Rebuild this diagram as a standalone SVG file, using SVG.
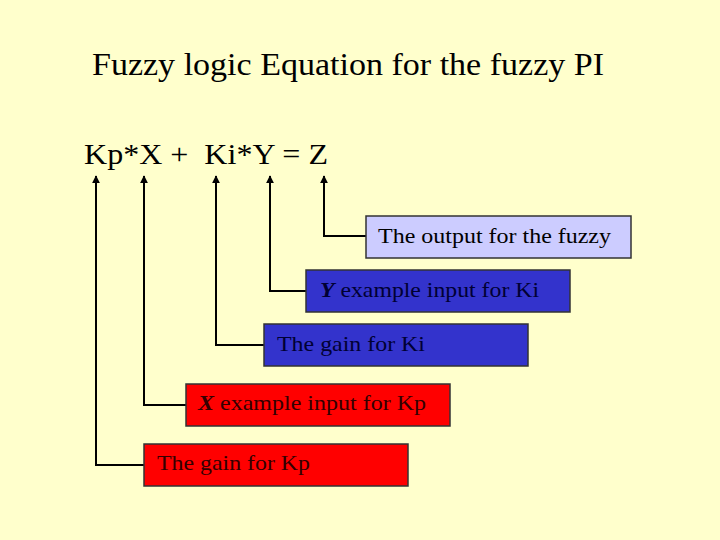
<svg xmlns="http://www.w3.org/2000/svg" width="720" height="540" viewBox="0 0 720 540" font-family="'Liberation Serif', 'Times New Roman', 'DejaVu Serif', serif">
<style>
.box{stroke:#333;stroke-width:1.5}
.lbl{font-size:22px}
.conn{fill:none;stroke:#000;stroke-width:2}
</style>
<defs>
<marker id="arr" viewBox="0 0 10 10" refX="9" refY="5" markerWidth="4" markerHeight="4" orient="auto" markerUnits="strokeWidth">
<path d="M0,0 L10,5 L0,10 z" fill="#000"/>
</marker>
</defs>
<rect width="720" height="540" fill="#ffffcc"/>
<text x="92" y="75" font-size="32" textLength="512" lengthAdjust="spacingAndGlyphs">Fuzzy logic Equation for the fuzzy PI</text>
<text x="84" y="164" font-size="30" xml:space="preserve" textLength="244" lengthAdjust="spacingAndGlyphs">Kp*X +  Ki*Y = Z</text>
<g id="connectors">
<path class="conn" d="M366,236 H324 V176" marker-end="url(#arr)"/>
<path class="conn" d="M306,291 H270 V176" marker-end="url(#arr)"/>
<path class="conn" d="M264,345 H216 V176" marker-end="url(#arr)"/>
<path class="conn" d="M186,405 H144 V176" marker-end="url(#arr)"/>
<path class="conn" d="M144,465 H96 V176" marker-end="url(#arr)"/>
</g>
<g id="n-output">
<rect class="box" x="366" y="216" width="265" height="42" fill="#ccccff"/>
<text class="lbl" x="378" y="243" fill="#000" textLength="233" lengthAdjust="spacingAndGlyphs">The output for the fuzzy</text>
</g>
<g id="n-y">
<rect class="box" x="306" y="270" width="264" height="42" fill="#3333cc"/>
<text class="lbl" x="320" y="297" fill="#000033" textLength="219" lengthAdjust="spacingAndGlyphs"><tspan font-weight="bold" font-style="italic">Y</tspan> example input for Ki</text>
</g>
<g id="n-ki">
<rect class="box" x="264" y="324" width="264" height="42" fill="#3333cc"/>
<text class="lbl" x="277" y="351" fill="#000033" textLength="148" lengthAdjust="spacingAndGlyphs">The gain for Ki</text>
</g>
<g id="n-x">
<rect class="box" x="186" y="384" width="264" height="42" fill="#ff0000"/>
<text class="lbl" x="198" y="410" fill="#330000" textLength="228" lengthAdjust="spacingAndGlyphs"><tspan font-weight="bold" font-style="italic">X</tspan> example input for Kp</text>
</g>
<g id="n-kp">
<rect class="box" x="144" y="444" width="264" height="42" fill="#ff0000"/>
<text class="lbl" x="157" y="470" fill="#330000" textLength="153" lengthAdjust="spacingAndGlyphs">The gain for Kp</text>
</g>
</svg>
